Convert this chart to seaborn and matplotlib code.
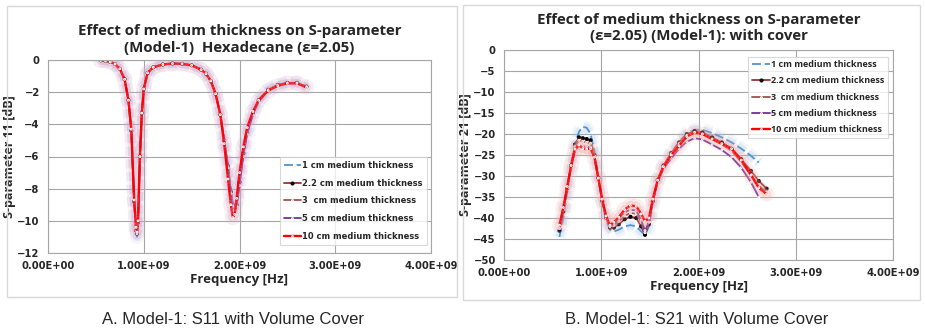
import numpy as np
import pandas as pd
import matplotlib
matplotlib.use("Agg")
import matplotlib.pyplot as plt
import matplotlib.patheffects as pe
from matplotlib.patches import Rectangle
import seaborn as sns

# ---------------- data ----------------
series_names = ["1 cm medium thickness", "2.2 cm medium thickness",
                "3  cm medium thickness", "5 cm medium thickness",
                "10 cm medium thickness"]

# S11 (GHz)
f11 = [0.55, 0.60, 0.65, 0.70, 0.75, 0.80, 0.84, 0.87, 0.90, 0.92, 0.93, 0.94,
       0.96, 0.98, 1.00, 1.04, 1.10, 1.20, 1.30, 1.40, 1.50, 1.60, 1.65, 1.70,
       1.75, 1.80, 1.84, 1.88, 1.91, 1.93, 1.95, 1.97, 2.00, 2.04, 2.08, 2.14,
       2.20, 2.30, 2.40, 2.50, 2.60, 2.70]
s11_1cm = [-0.02, -0.05, -0.12, -0.25, -0.55, -1.2, -2.5, -4.4, -8.9, -10.7, -11.0, -10.2,
           -6.1, -3.3, -1.8, -0.8, -0.45, -0.28, -0.22, -0.24, -0.33, -0.6, -0.85, -1.3,
           -2.1, -3.4, -5.0, -6.6, -8.2, -9.0, -9.2, -9.0, -7.6, -5.8, -4.5, -3.3,
           -2.5, -1.85, -1.55, -1.42, -1.42, -1.65]
s11_22cm = [-0.02, -0.05, -0.12, -0.25, -0.55, -1.2, -2.5, -4.4, -8.8, -10.6, -10.8, -10.1,
            -6.0, -3.3, -1.8, -0.8, -0.45, -0.28, -0.22, -0.24, -0.33, -0.6, -0.85, -1.3,
            -2.1, -3.4, -5.0, -6.6, -8.2, -9.0, -9.2, -9.0, -7.6, -5.8, -4.5, -3.3,
            -2.5, -1.85, -1.55, -1.42, -1.42, -1.65]
s11_3cm = [-0.02, -0.05, -0.12, -0.25, -0.55, -1.2, -2.5, -4.4, -8.8, -10.5, -10.7, -10.0,
           -6.0, -3.3, -1.8, -0.8, -0.45, -0.28, -0.22, -0.24, -0.33, -0.6, -0.85, -1.3,
           -2.1, -3.4, -5.0, -6.6, -8.2, -9.0, -9.2, -9.0, -7.6, -5.8, -4.5, -3.3,
           -2.5, -1.85, -1.55, -1.42, -1.42, -1.65]
s11_5cm = [-0.02, -0.05, -0.12, -0.25, -0.55, -1.2, -2.5, -4.4, -8.8, -10.6, -10.8, -10.1,
           -6.0, -3.3, -1.8, -0.8, -0.45, -0.28, -0.22, -0.24, -0.33, -0.6, -0.85, -1.3,
           -2.1, -3.4, -5.0, -6.7, -8.3, -9.1, -9.3, -9.1, -7.8, -6.0, -4.6, -3.4,
           -2.6, -1.9, -1.6, -1.45, -1.45, -1.7]
s11_10cm = [-0.02, -0.05, -0.12, -0.25, -0.55, -1.2, -2.5, -4.3, -8.7, -10.4, -10.7, -10.0,
            -6.0, -3.3, -1.8, -0.8, -0.45, -0.28, -0.22, -0.24, -0.33, -0.6, -0.85, -1.3,
            -2.1, -3.4, -5.2, -7.4, -9.0, -9.8, -9.6, -8.6, -7.0, -5.4, -4.2, -3.2,
            -2.5, -1.9, -1.6, -1.45, -1.45, -1.7]

# S21 (GHz)
f21 = [0.57, 0.61, 0.65, 0.69, 0.73, 0.77, 0.81, 0.85, 0.89, 0.93, 0.97, 1.01,
       1.05, 1.09, 1.13, 1.18, 1.24, 1.30, 1.36, 1.41, 1.45, 1.49, 1.53, 1.58,
       1.64, 1.72, 1.80, 1.88, 1.96, 2.04, 2.14, 2.24, 2.34, 2.44, 2.54, 2.62, 2.70]
s21_1cm = [-44.5, -40.0, -34.0, -28.0, -22.5, -19.5, -18.3, -18.5, -20.0, -24.0, -30.0, -36.0,
           -40.5, -42.8, -43.2, -42.8, -42.0, -41.7, -42.0, -43.2, -44.0, -42.0, -36.5, -31.0,
           -27.5, -24.5, -22.0, -19.8, -19.0, -19.0, -19.8, -20.8, -22.0, -23.5, -25.2, -26.8, np.nan]
s21_22cm = [-43.0, -38.5, -33.0, -27.5, -22.5, -20.8, -21.0, -21.2, -21.5, -25.0, -30.5, -36.0,
            -40.0, -42.3, -42.3, -41.5, -40.3, -39.7, -40.0, -42.0, -44.0, -41.5, -36.0, -31.0,
            -27.5, -24.5, -22.0, -20.0, -19.3, -19.6, -20.8, -22.0, -23.5, -26.0, -28.8, -31.2, -33.0]
s21_3cm = [-42.5, -38.0, -32.8, -27.5, -23.0, -21.5, -21.8, -22.0, -22.2, -25.2, -30.5, -36.0,
           -40.0, -42.0, -41.8, -40.8, -39.5, -38.8, -39.0, -41.0, -43.5, -41.0, -35.8, -31.0,
           -27.6, -24.7, -22.3, -20.3, -19.7, -20.0, -21.2, -22.5, -24.0, -26.7, -29.8, -32.3, -33.8]
s21_5cm = [-42.5, -38.0, -33.0, -28.0, -24.0, -22.8, -23.0, -23.0, -23.2, -25.8, -30.8, -36.0,
           -40.0, -42.0, -41.5, -40.0, -38.7, -38.0, -38.2, -40.5, -43.0, -41.0, -36.0, -31.5,
           -28.3, -25.8, -23.5, -21.8, -21.0, -21.3, -22.5, -23.8, -25.5, -28.0, -31.5, -35.0, np.nan]
s21_10cm = [-41.7, -37.5, -32.5, -27.5, -23.6, -22.6, -23.5, -23.6, -23.5, -25.5, -30.5, -35.5,
            -39.5, -41.7, -41.0, -39.8, -38.0, -37.0, -37.2, -39.0, -40.8, -40.0, -35.5, -31.0,
            -27.8, -25.0, -22.8, -20.6, -19.6, -20.0, -21.2, -22.3, -23.5, -26.2, -29.8, -32.8, -34.3]

x_ticks = [0, 1e9, 2e9, 3e9, 4e9]
x_tick_labels = ["0.00E+00", "1.00E+09", "2.00E+09", "3.00E+09", "4.00E+09"]

# ---------------- styling ----------------
sns.set_theme(style="white")
plt.rcParams["font.family"] = ["DejaVu Sans"]

colors = ["#4F94D4", "#943634", "#A0524F", "#7030A0", "#FF0000"]
widths = [1.3, 1.3, 1.3, 1.3, 1.7]
styles = [dict(linestyle=(0, (5, 2)), marker=None),
          dict(linestyle="-", marker="o", markersize=2.2, markerfacecolor="black", markeredgecolor="black"),
          dict(linestyle="-", marker=".", markersize=2.5),
          dict(linestyle="-", marker=".", markersize=2.5),
          dict(linestyle="-", marker=".", markersize=2.5)]

W, H = 925, 331
fig = plt.figure(figsize=(W / 100, H / 100), dpi=100)
fig.patch.set_facecolor("white")

# panel frames
fig.patches.append(Rectangle((7 / W, 1 - 297 / H), 450 / W, 291 / H, transform=fig.transFigure,
                             fill=False, edgecolor="#D9D9D9", lw=1))
fig.patches.append(Rectangle((463 / W, 1 - 300 / H), 457 / W, 295 / H, transform=fig.transFigure,
                             fill=False, edgecolor="#D9D9D9", lw=1))

ax1 = fig.add_axes([48 / W, 1 - 253 / H, 383 / W, 193 / H])
ax2 = fig.add_axes([504 / W, 1 - 260 / H, 389 / W, 210 / H])


def draw(ax, freq, series, glow_colors):
    freq_hz = np.array(freq) * 1e9
    for name, vals, c, st, gc, lw in zip(series_names, series, colors, styles, glow_colors, widths):
        df = pd.DataFrame({"f": freq_hz, "v": vals}).dropna()
        effects = [pe.Normal()]
        if gc is not None:
            effects = [pe.Stroke(linewidth=10, foreground=gc, alpha=0.12),
                       pe.Stroke(linewidth=6, foreground=gc, alpha=0.22), pe.Normal()]
        sns.lineplot(data=df, x="f", y="v", ax=ax, color=c, lw=lw, label=name,
                     path_effects=effects, **st)


draw(ax1, f11, [s11_1cm, s11_22cm, s11_3cm, s11_5cm, s11_10cm],
     ["#B9A6D6", None, None, None, "#D8A8C8"])
draw(ax2, f21, [s21_1cm, s21_22cm, s21_3cm, s21_5cm, s21_10cm],
     ["#9CC3EA", None, None, None, "#F4A6A6"])

for ax, ylo, step, ylab, title, tpad in [
        (ax1, -12, 2, "S-parameter 11 [dB]",
         "Effect of medium thickness on S-parameter\n(Model-1)  Hexadecane (\u03b5=2.05)", 6),
        (ax2, -50, 5, "S-parameter 21 [dB]",
         "Effect of medium thickness on S-parameter\n(\u03b5=2.05) (Model-1): with cover", 7)]:
    ax.set_xlim(0, 4e9)
    ax.set_ylim(ylo, 0)
    ax.set_xticks(x_ticks)
    ax.set_xticklabels(x_tick_labels)
    ax.set_yticks(np.arange(ylo, 0.1, step))
    ax.grid(True, color="#A6A6A6", lw=0.8)
    ax.set_axisbelow(True)
    for s in ax.spines.values():
        s.set_color("#A6A6A6")
        s.set_linewidth(0.8)
    ax.tick_params(axis="both", length=0, labelsize=7.2, pad=6)
    for lbl in ax.get_xticklabels() + ax.get_yticklabels():
        lbl.set_fontweight("bold")
    ax.set_xlabel("Frequency [Hz]", fontsize=9.5, fontweight="bold", family="Open Sans", labelpad=1)
    ax.set_ylabel(ylab, fontsize=9, fontweight="bold", family="Open Sans", labelpad=1)
    ax.set_title(title, fontsize=10.8, fontweight="bold", family="Open Sans", pad=tpad,
                 linespacing=1.2)

leg1 = ax1.legend(loc="lower right", bbox_to_anchor=(1.0, 0.02), frameon=True, fancybox=False,
                  prop={"size": 6, "weight": "bold", "family": "DejaVu Sans"},
                  handlelength=2.0, handletextpad=0.2, labelspacing=1.05, borderpad=0.5)
leg2 = ax2.legend(loc="upper right", bbox_to_anchor=(1.0, 0.99), frameon=True, fancybox=False,
                  prop={"size": 6.5, "weight": "bold", "family": "Open Sans"},
                  handlelength=2.0, handletextpad=0.2, labelspacing=0.8, borderpad=0.4)
for leg in (leg1, leg2):
    leg.get_frame().set_edgecolor("#D0D0D0")
    leg.get_frame().set_linewidth(0.8)
    for h in leg.legend_handles:
        h.set_path_effects([])

fig.text(233 / W, 1 - 319 / H, "A. Model-1: S11 with Volume Cover", ha="center", va="center",
         fontsize=12, family="Liberation Sans")
fig.text(697 / W, 1 - 319 / H, "B. Model-1: S21 with Volume Cover", ha="center", va="center",
         fontsize=12, family="Liberation Sans")

fig.savefig("out.png", dpi=100, facecolor="white")
